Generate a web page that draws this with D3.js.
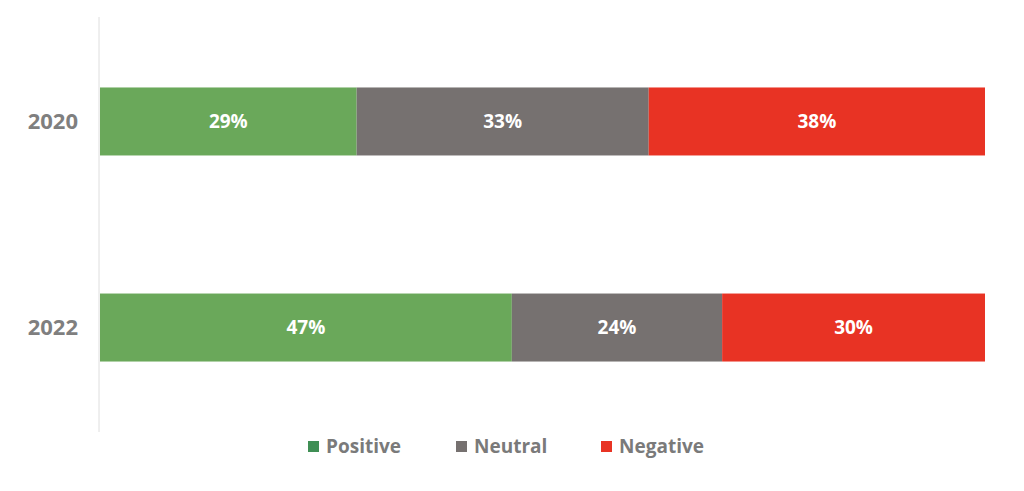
<!DOCTYPE html>
<html>
<head>
<meta charset="utf-8">
<script src="https://cdn.jsdelivr.net/npm/d3@7"></script>
<style>
  body { margin: 0; background: #fff; }
  svg { font-family: "Open Sans", sans-serif; font-weight: bold; }
</style>
</head>
<body>
<div id="chart-area"><svg></svg></div>
<script>
const years = ["2020", "2022"];
const categories = ["Positive", "Neutral", "Negative"];
const positive = [29, 47];
const neutral = [33, 24];
const negative = [38, 30];

const barColors = { Positive: "#6aa85a", Neutral: "#767170", Negative: "#e83324" };
const legendColors = { Positive: "#3f8f55", Neutral: "#767170", Negative: "#e83324" };

const chartSize = { width: 1024, height: 491 };

const rows = years.map((year, i) => ({
  year,
  Positive: positive[i],
  Neutral: neutral[i],
  Negative: negative[i]
}));

const svg = d3
  .select("#chart-area svg")
  .attr("width", chartSize.width)
  .attr("height", chartSize.height);

const x = d3.scaleLinear().domain([0, 1]).range([100, 985]);

const y = d3
  .scaleBand()
  .domain(years)
  .range([17, 432])
  .paddingInner(0.67)
  .paddingOuter(0.342);

const series = d3
  .stack()
  .keys(categories)
  .offset(d3.stackOffsetExpand)(rows);

// vertical axis line
svg
  .append("line")
  .attr("x1", x(0) - 1)
  .attr("x2", x(0) - 1)
  .attr("y1", y.range()[0])
  .attr("y2", y.range()[1])
  .attr("stroke", "#dedede")
  .attr("stroke-width", 1);

const groups = svg
  .selectAll("g.series")
  .data(series)
  .join("g")
  .attr("class", "series")
  .attr("fill", s => barColors[s.key]);

groups
  .selectAll("rect")
  .data(s => s)
  .join("rect")
  .attr("x", d => x(d[0]))
  .attr("width", d => x(d[1]) - x(d[0]))
  .attr("y", d => y(d.data.year))
  .attr("height", y.bandwidth());

groups
  .selectAll("text")
  .data(s => s.map(d => ({ d, key: s.key })))
  .join("text")
  .attr("x", o => (x(o.d[0]) + x(o.d[1])) / 2)
  .attr("y", o => y(o.d.data.year) + y.bandwidth() / 2)
  .attr("dy", "0.36em")
  .attr("text-anchor", "middle")
  .attr("fill", "#fff")
  .attr("font-size", 19)
  .text(o => o.d.data[o.key] + "%");

// year labels
svg
  .selectAll("text.year")
  .data(years)
  .join("text")
  .attr("class", "year")
  .attr("x", 78)
  .attr("y", d => y(d) + y.bandwidth() / 2)
  .attr("dy", "0.36em")
  .attr("text-anchor", "end")
  .attr("fill", "#7f7f7f")
  .attr("font-size", 22)
  .text(d => d);

// legend
const legendX = [308, 456, 601];
const legend = svg
  .selectAll("g.legend")
  .data(categories)
  .join("g")
  .attr("class", "legend")
  .attr("transform", (d, i) => `translate(${legendX[i]},441)`);

legend
  .append("rect")
  .attr("width", 11)
  .attr("height", 11)
  .attr("fill", d => legendColors[d]);

legend
  .append("text")
  .attr("x", 18)
  .attr("y", 5.5)
  .attr("dy", "0.36em")
  .attr("fill", "#7a7a7a")
  .attr("font-size", 19)
  .text(d => d);
</script>
</body>
</html>
